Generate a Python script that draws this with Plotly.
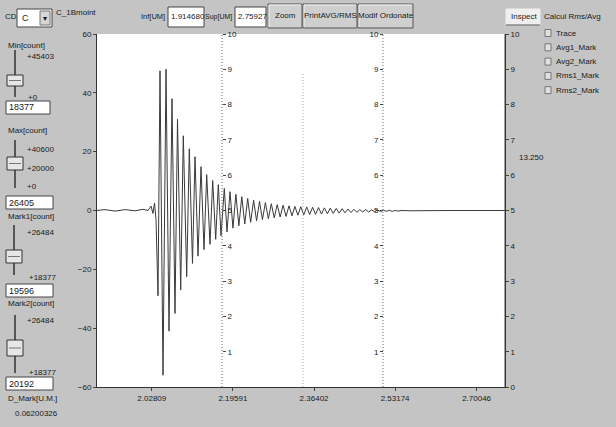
import plotly.graph_objects as go

# ---------------- data ----------------
x_range = [1.914680, 2.75927]
x_tick_vals = [2.02809, 2.19591, 2.36402, 2.53174, 2.70046]
x_tick_text = ["2.02809", "2.19591", "2.36402", "2.53174", "2.70046"]
y_left_ticks = [-60, -40, -20, 0, 20, 40, 60]
y_scale_ticks = [1, 2, 3, 4, 5, 6, 7, 8, 9, 10]
y_right_ticks = [0, 1, 2, 3, 4, 5, 6, 7, 8, 9, 10]

t_sig = [1.91468, 1.93124, 1.95194, 1.97264, 1.99334, 2.00990, 2.02026, 2.02647,
         2.03061, 2.03371, 2.03682, 2.04096, 2.04510, 2.05131, 2.05752, 2.06373,
         2.06994, 2.07615, 2.08132, 2.08795, 2.09333, 2.10037, 2.10575, 2.11238,
         2.11755, 2.12376, 2.12997, 2.13618, 2.14177, 2.14860, 2.15419, 2.16040,
         2.16578, 2.17137, 2.17820, 2.18379, 2.19000, 2.19611, 2.20222, 2.20832,
         2.21443, 2.22054, 2.22664, 2.23275, 2.23886, 2.24497, 2.25107, 2.25718,
         2.26329, 2.26939, 2.27550, 2.28161, 2.28772, 2.29382, 2.29993, 2.30604,
         2.31214, 2.31825, 2.32436, 2.33047, 2.33657, 2.34268, 2.34879, 2.35489,
         2.36100, 2.36711, 2.37322, 2.37932, 2.38543, 2.39154, 2.39764, 2.40375,
         2.40986, 2.41597, 2.42207, 2.42818, 2.43429, 2.44039, 2.44650, 2.45261,
         2.45872, 2.46482, 2.47093, 2.47704, 2.48314, 2.48925, 2.49536, 2.50147,
         2.50757, 2.51368, 2.51979, 2.52589, 2.53200, 2.53811, 2.54422, 2.56262,
         2.64543, 2.75927]
v_sig = [0.0, 0.3, -0.2, 0.3, -0.1, 0.4, 0.0, 1.5,
         -1.0, 2.5, -3.0, -29.0, 47.5, -56.0, 48.0, -41.0,
         38.0, -35.0, 31.0, -27.0, 25.4, -22.5, 21.0, -18.0,
         18.3, -15.5, 14.9, -13.3, 12.2, -11.5, 10.2, -9.8,
         8.8, -8.6, 7.5, -7.3, 6.4, -6.0, 5.5, -5.2,
         4.7, -4.6, 4.1, -4.0, 3.5, -3.5, 3.1, -3.1,
         2.7, -2.8, 2.3, -2.5, 2.0, -2.2, 1.8, -2.0,
         1.6, -1.8, 1.4, -1.6, 1.3, -1.5, 1.2, -1.4,
         1.1, -1.3, 1.0, -1.2, 0.9, -1.1, 0.8, -1.0,
         0.7, -0.9, 0.6, -0.8, 0.5, -0.7, 0.4, -0.6,
         0.3, -0.5, 0.3, -0.5, 0.2, -0.4, 0.2, -0.4,
         0.1, -0.3, 0.1, -0.3, 0.0, -0.2, 0.0, -0.1,
         0.0, 0.0]

cursor_t = [2.17344, 2.34112, 2.50673]
cursor_top = [10, 8.9, 10]

inf_text = "1.914680"
sup_text = "2.75927"
min_count = "18377"
max_count = "26405"
mark1_count = "19596"
mark2_count = "20192"
d_mark = "0.06200326"
rms_avg = "13.250"
check_items = ["Trace", "Avg1_Mark", "Avg2_Mark", "Rms1_Mark", "Rms2_Mark"]

# ---------------- styling / geometry ----------------
W, H = 616, 427
L, R, T, B = 97, 505, 34, 387
FONT = "Liberation Sans, Arial, sans-serif"
BG = "#c4c4c4"
TXT = "#1a1a1a"


def PX(px):
    return (px - L) / (R - L)


def PY(py):
    return (B - py) / (B - T)


fig = go.Figure()
fig.add_trace(go.Scatter(x=t_sig, y=v_sig, mode="lines",
                         line=dict(color="#3a3a3a", width=1), hoverinfo="skip"))
# cursor / scale lines
fig.add_trace(go.Scatter(x=[cursor_t[0]] * 2, y=[0, cursor_top[0]], yaxis="y2", mode="lines",
                         line=dict(color="#666", width=1, dash="1px,2px"), hoverinfo="skip"))
fig.add_trace(go.Scatter(x=[cursor_t[1]] * 2, y=[0, cursor_top[1]], yaxis="y2", mode="lines",
                         line=dict(color="#aaa", width=1, dash="1px,2px"), hoverinfo="skip"))
fig.add_trace(go.Scatter(x=[cursor_t[2]] * 2, y=[0, cursor_top[2]], yaxis="y3", mode="lines",
                         line=dict(color="#666", width=1, dash="1px,2px"), hoverinfo="skip"))
fig.add_trace(go.Scatter(x=[x_range[1]] * 2, y=[0, 10], yaxis="y4", mode="lines",
                         line=dict(color="#444", width=1), hoverinfo="skip"))

tickfont = dict(family=FONT, size=8, color=TXT)
scale_axis = dict(range=[0, 10], tickvals=y_scale_ticks, ticks="outside", ticklen=3,
                  tickcolor="#444", showgrid=False, zeroline=False, showline=False,
                  tickfont=tickfont, overlaying="y", anchor="free", fixedrange=True)

fig.update_layout(
    width=W, height=H, autosize=False,
    margin=dict(l=L, r=W - R, t=T, b=H - B, pad=0),
    paper_bgcolor=BG, plot_bgcolor="white", showlegend=False,
    font=dict(family=FONT, size=8, color=TXT),
    xaxis=dict(range=x_range, tickvals=x_tick_vals, ticktext=x_tick_text,
               ticks="outside", ticklen=3, tickcolor="#444", showgrid=False,
               zeroline=False, showline=True, linecolor="#333", linewidth=1,
               tickfont=tickfont),
    yaxis=dict(range=[-60, 60], tickvals=y_left_ticks, ticks="outside", ticklen=3,
               tickcolor="#444", showgrid=False, zeroline=False, showline=True,
               linecolor="#333", linewidth=1, tickfont=tickfont),
    yaxis2=dict(scale_axis, side="right", position=PX(222)),
    yaxis3=dict(scale_axis, side="left", position=PX(383)),
    yaxis4=dict(range=[0, 10], tickvals=y_right_ticks, ticks="outside", ticklen=3,
                tickcolor="#444", showgrid=False, zeroline=False, showline=True,
                linecolor="#333", tickfont=tickfont, overlaying="y", anchor="x",
                side="right"),
)

shapes = []
annots = []


def text(s, px, py, anchor="left", size=8):
    annots.append(dict(text=s, x=PX(px), y=PY(py), xref="paper", yref="paper",
                       xanchor=anchor, yanchor="middle", showarrow=False,
                       font=dict(family=FONT, size=size, color=TXT)))


def rect(x0, y0, x1, y1, fill, line="#555", lw=1):
    shapes.append(dict(type="rect", xref="paper", yref="paper",
                       x0=PX(x0), x1=PX(x1), y0=PY(y1), y1=PY(y0),
                       fillcolor=fill, line=dict(color=line, width=lw)))


def hline(x0, x1, y, color="#444", lw=1):
    shapes.append(dict(type="line", xref="paper", yref="paper",
                       x0=PX(x0), x1=PX(x1), y0=PY(y), y1=PY(y),
                       line=dict(color=color, width=lw)))


def vline(x, y0, y1, color="#444", lw=1):
    shapes.append(dict(type="line", xref="paper", yref="paper",
                       x0=PX(x), x1=PX(x), y0=PY(y0), y1=PY(y1),
                       line=dict(color=color, width=lw)))


def textbox(x0, y0, x1, y1, s, size=9):
    rect(x0, y0, x1, y1, "white", "#444")
    text(s, x0 + 1, (y0 + y1) / 2, size=size)


def button(x0, y0, x1, y1, s):
    rect(x0, y0, x1, y1, "#cfcfcf", "#555")
    hline(x0 + 1, x1 - 1, y0 + 1, "#f2f2f2")
    vline(x0 + 1, y0 + 1, y1 - 1, "#f2f2f2")
    text(s, (x0 + x1) / 2, (y0 + y1) / 2, anchor="center")


def slider(x, y0, y1, ty0, ty1):
    vline(x, y0, y1, "#333", 1.5)
    rect(x - 8, ty0, x + 8, ty1, "#e6e6e6", "#333")
    hline(x - 6, x + 6, (ty0 + ty1) / 2, "#777")


# top bar
text("CD", 3, 17)
rect(17, 9, 52, 27, "white", "#444")
text("C", 20, 18, size=9)
rect(40, 11, 50, 25, "#d6d6d6", "#777")
text("▾", 45, 18, anchor="center", size=8)
text("C_1Bmoint", 54, 12)
text("Inf[UM]", 167, 17, anchor="right", size=7.5)
textbox(168, 7, 204, 27, inf_text, size=8)
text("Sup[UM]", 234, 17, anchor="right", size=7)
textbox(235, 7, 266, 27, sup_text, size=8)
button(268, 4, 302, 28, "Zoom")
button(303, 4, 357, 28, "PrintAVG/RMS")
button(358, 4, 413, 28, "Modif Ordonate")

# left panel
text("Min[count]", 6, 45)
slider(15, 50, 97, 75, 86)
text("+45403", 25, 56)
text("+0", 26, 97)
textbox(6, 101, 50, 114, min_count)

text("Max[count]", 6, 130)
slider(15, 140, 188, 157, 170)
text("+40600", 25, 149)
text("+20000", 25, 168)
text("+0", 25, 186)
textbox(6, 196, 53, 209, max_count)

text("Mark1[count]", 6, 216)
slider(14, 225, 275, 250, 263)
text("+26484", 25, 232)
text("+18377", 27, 277)
textbox(6, 284, 53, 297, mark1_count)

text("Mark2[count]", 6, 303)
slider(15, 315, 373, 340, 356)
text("+26484", 25, 320)
text("+18377", 27, 372)
textbox(6, 377, 53, 390, mark2_count)

text("D_Mark[U.M.]", 6, 398)
text(d_mark, 13, 414)

# right panel
rect(506, 9, 540, 25, "#efefef", "#efefef")
hline(506, 540, 25, "#555")
text("Inspect", 509, 17)
text("Calcul Rms/Avg", 542, 17)
for i, item in enumerate(check_items):
    yy = 33 + i * 14.3
    rect(545, yy - 3.5, 551, yy + 3.5, "#e0e0e0", "#777")
    text(item, 554, yy)
text(rms_avg, 517, 157)

fig.update_layout(shapes=shapes, annotations=annots)
fig.write_html("out.html", config={"displayModeBar": False},
               post_script="document.body.style.margin='0';")
